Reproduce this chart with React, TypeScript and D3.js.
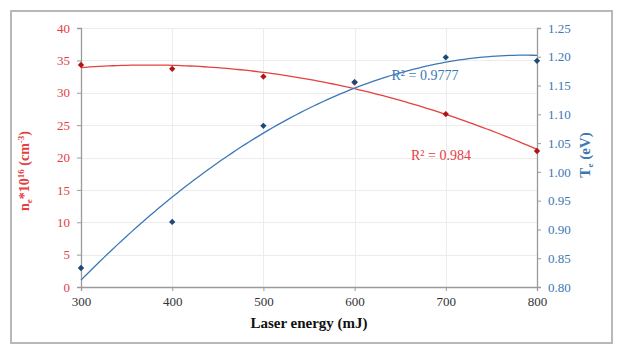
import { useEffect, useRef } from 'react';
import * as d3 from 'd3';

const energies = [300, 400, 500, 600, 700, 800];
const neValues = [34.3, 33.7, 32.5, 31.6, 26.7, 21.0];
const teValues = [0.833, 0.913, 1.08, 1.156, 1.199, 1.193];
const leftTicks = [0, 5, 10, 15, 20, 25, 30, 35, 40];
const rightTicks = [0.8, 0.85, 0.9, 0.95, 1.0, 1.05, 1.1, 1.15, 1.2, 1.25];
const neR2 = 'R² = 0.984';
const teR2 = 'R² = 0.9777';

const W = 628;
const H = 364;
const margin = { top: 28, right: 91, bottom: 77, left: 81 };

const RED = '#e5403f';
const RED_DARK = '#b01515';
const BLUE = '#3b78b6';
const BLUE_DARK = '#1d4a78';

// quadratic least squares, same as the spreadsheet trendline
function quadFit(xs: number[], ys: number[]) {
  const n = xs.length;
  const m = d3.mean(xs)!;
  const t = xs.map((x) => (x - m) / 100);
  const s = (p: number) => d3.sum(t, (v) => Math.pow(v, p));
  const sy = (p: number) => d3.sum(t, (v, i) => Math.pow(v, p) * ys[i]);
  const A = [
    [n, s(1), s(2)],
    [s(1), s(2), s(3)],
    [s(2), s(3), s(4)],
  ];
  const b = [sy(0), sy(1), sy(2)];
  const det = (M: number[][]) =>
    M[0][0] * (M[1][1] * M[2][2] - M[1][2] * M[2][1]) -
    M[0][1] * (M[1][0] * M[2][2] - M[1][2] * M[2][0]) +
    M[0][2] * (M[1][0] * M[2][1] - M[1][1] * M[2][0]);
  const D = det(A);
  const c = [0, 1, 2].map((k) => det(A.map((row, i) => row.map((v, j) => (j === k ? b[i] : v)))) / D);
  return (x: number) => {
    const u = (x - m) / 100;
    return c[0] + c[1] * u + c[2] * u * u;
  };
}

export default function App() {
  const ref = useRef<SVGSVGElement | null>(null);

  useEffect(() => {
    if (!ref.current) return;
    const svg = d3.select(ref.current);
    svg.selectAll('*').remove();

    const iw = W - margin.left - margin.right;
    const ih = H - margin.top - margin.bottom;

    const x = d3.scaleLinear().domain([300, 800]).range([margin.left, margin.left + iw]);
    const yL = d3.scaleLinear().domain([0, 40]).range([margin.top + ih, margin.top]);
    const yR = d3.scaleLinear().domain([0.8, 1.25]).range([margin.top + ih, margin.top]);

    svg.append('rect').attr('width', W).attr('height', H).attr('fill', '#fff');
    svg
      .append('rect')
      .attr('x', 11)
      .attr('y', 11)
      .attr('width', 601)
      .attr('height', 332)
      .attr('fill', '#fff')
      .attr('stroke', '#b8b8b8')
      .attr('stroke-width', 2);

    // grid
    const grid = svg.append('g').attr('stroke', '#ececec').attr('stroke-width', 1);
    grid
      .selectAll('line.h')
      .data(leftTicks.slice(1))
      .enter()
      .append('line')
      .attr('x1', margin.left)
      .attr('x2', margin.left + iw)
      .attr('y1', (d) => Math.round(yL(d)) + 0.5)
      .attr('y2', (d) => Math.round(yL(d)) + 0.5);
    grid
      .selectAll('line.v')
      .data(energies.slice(1, -1))
      .enter()
      .append('line')
      .attr('y1', margin.top)
      .attr('y2', margin.top + ih)
      .attr('x1', (d) => Math.round(x(d)) + 0.5)
      .attr('x2', (d) => Math.round(x(d)) + 0.5);

    const font = '"Liberation Serif", "Times New Roman", serif';

    const xAxis = svg
      .append('g')
      .attr('transform', `translate(0,${margin.top + ih})`)
      .call(d3.axisBottom(x).tickValues(energies).tickSize(4).tickPadding(6).tickFormat(d3.format('d')));
    xAxis.selectAll('text').attr('fill', '#333').style('font-size', '13px');

    const leftAxis = svg
      .append('g')
      .attr('transform', `translate(${margin.left},0)`)
      .call(d3.axisLeft(yL).tickValues(leftTicks).tickSize(4).tickPadding(7));
    leftAxis.selectAll('text').attr('fill', RED).style('font-size', '13px');

    const rightAxis = svg
      .append('g')
      .attr('transform', `translate(${margin.left + iw},0)`)
      .call(d3.axisRight(yR).tickValues(rightTicks).tickSize(4).tickPadding(7).tickFormat(d3.format('.2f')));
    rightAxis.selectAll('text').attr('fill', BLUE).style('font-size', '13px');

    [xAxis, leftAxis, rightAxis].forEach((a) => {
      a.attr('font-family', null).style('font-family', font);
      a.select('.domain').attr('stroke', '#9a9a9a').attr('stroke-width', 1.3);
      a.selectAll('.tick line').attr('stroke', '#9a9a9a');
    });

    // trendlines
    const xs = d3.range(300, 800.01, 5);
    const neFit = quadFit(energies, neValues);
    const teFit = quadFit(energies, teValues);
    svg
      .append('path')
      .attr('d', d3.line<number>().x((d) => x(d)).y((d) => yL(neFit(d)))(xs))
      .attr('fill', 'none')
      .attr('stroke', RED)
      .attr('stroke-width', 1.3);
    svg
      .append('path')
      .attr('d', d3.line<number>().x((d) => x(d)).y((d) => yR(teFit(d)))(xs))
      .attr('fill', 'none')
      .attr('stroke', BLUE)
      .attr('stroke-width', 1.3);

    const diamond = d3.symbol().type(d3.symbolSquare).size(20);
    svg
      .selectAll('path.ne')
      .data(energies)
      .enter()
      .append('path')
      .attr('d', diamond)
      .attr('transform', (d, i) => `translate(${x(d)},${yL(neValues[i])}) rotate(45)`)
      .attr('fill', RED_DARK);
    svg
      .selectAll('path.te')
      .data(energies)
      .enter()
      .append('path')
      .attr('d', diamond)
      .attr('transform', (d, i) => `translate(${x(d)},${yR(teValues[i])}) rotate(45)`)
      .attr('fill', BLUE_DARK);

    const label = (tx: number, ty: number, fill: string, txt: string) =>
      svg
        .append('text')
        .attr('x', tx)
        .attr('y', ty)
        .attr('text-anchor', 'middle')
        .style('font-family', font)
        .attr('font-size', 14)
        .attr('fill', fill)
        .text(txt);
    label(425, 80, BLUE, teR2);
    label(441, 160, RED, neR2);

    // axis titles
    svg
      .append('text')
      .attr('x', 309)
      .attr('y', 328)
      .attr('text-anchor', 'middle')
      .style('font-family', font)
      .attr('font-weight', 'bold')
      .attr('font-size', 15)
      .attr('fill', '#111')
      .text('Laser energy (mJ)');

    const lt = svg
      .append('text')
      .attr('transform', 'translate(29,171) rotate(-90)')
      .attr('text-anchor', 'middle')
      .style('font-family', font)
      .attr('font-weight', 'bold')
      .attr('font-size', 14)
      .attr('fill', RED);
    lt.append('tspan').text('n');
    lt.append('tspan').attr('font-size', 9).attr('dy', 3).text('e');
    lt.append('tspan').attr('dy', -3).text('*10');
    lt.append('tspan').attr('font-size', 9).attr('dy', -5).text('16');
    lt.append('tspan').attr('dy', 5).text(' (cm');
    lt.append('tspan').attr('font-size', 9).attr('dy', -5).text('-3');
    lt.append('tspan').attr('dy', 5).text(')');

    const rt = svg
      .append('text')
      .attr('transform', 'translate(590,155) rotate(-90)')
      .attr('text-anchor', 'middle')
      .style('font-family', font)
      .attr('font-weight', 'bold')
      .attr('font-size', 15)
      .attr('fill', BLUE);
    rt.append('tspan').text('T');
    rt.append('tspan').attr('font-size', 9).attr('dy', 3).text('e');
    rt.append('tspan').attr('dy', -3).text(' (eV)');
  }, []);

  return (
    <svg
      ref={ref}
      width={W}
      height={H}
      style={{ position: 'absolute', left: 0, top: 0, display: 'block' }}
    />
  );
}
